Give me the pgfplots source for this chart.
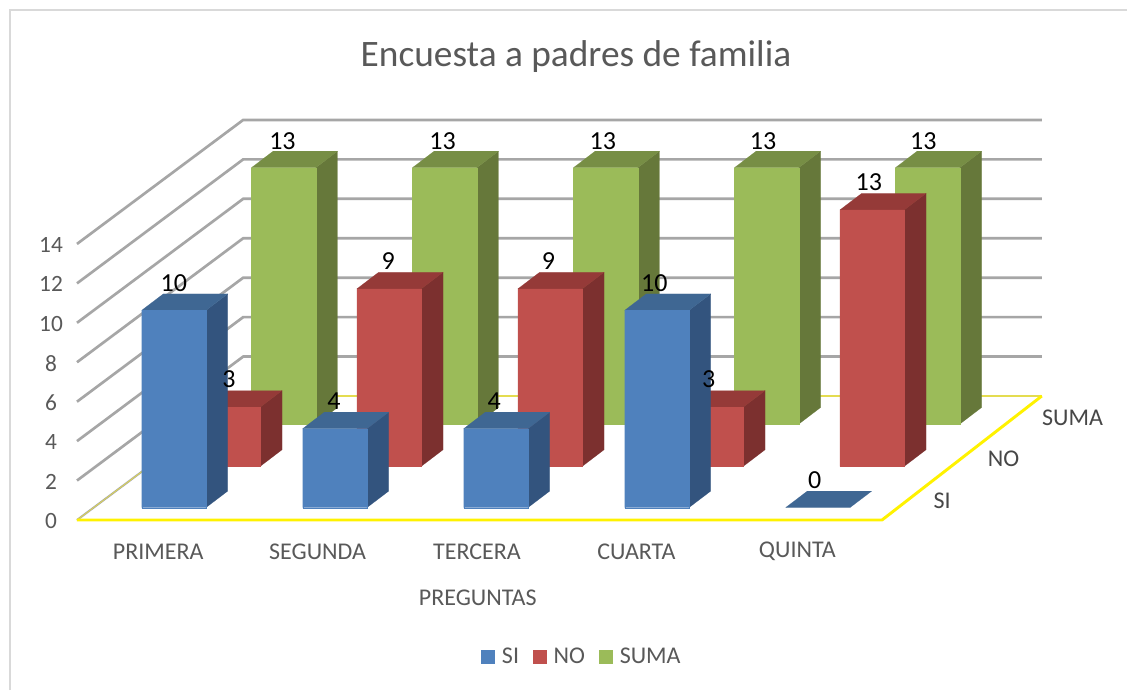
\documentclass[border=0pt]{standalone}
\usepackage{fontspec}
\setmainfont{Carlito}
\usepackage{pgfplots}
\pgfplotsset{compat=1.18}
\definecolor{txt}{HTML}{595959}
\definecolor{gridc}{HTML}{A6A6A6}
\definecolor{frame}{HTML}{D9D9D9}
\definecolor{bf}{HTML}{4F81BD}\definecolor{bs}{HTML}{33547E}\definecolor{bt}{HTML}{3F6793}
\definecolor{rf}{HTML}{C0504D}\definecolor{rs}{HTML}{7C302F}\definecolor{rt}{HTML}{953A38}
\definecolor{gf}{HTML}{9BBB59}\definecolor{gs}{HTML}{66783A}\definecolor{gt}{HTML}{778E45}
% x0 x1 y0 y1 value  letter
\newcommand{\threedbar}[6]{%
  \addplot3[forget plot,fill=#6s,draw=#6s,line width=0.1pt] coordinates {(#2,#3,0) (#2,#4,0) (#2,#4,#5) (#2,#3,#5) (#2,#3,0)};
  \addplot3[forget plot,fill=#6t,draw=#6t,line width=0.1pt] coordinates {(#1,#3,#5) (#2,#3,#5) (#2,#4,#5) (#1,#4,#5) (#1,#3,#5)};
  \addplot3[forget plot,fill=#6f,draw=#6f,line width=0.1pt] coordinates {(#1,#3,0) (#2,#3,0) (#2,#3,#5) (#1,#3,#5) (#1,#3,0)};
}
\newcommand{\zerobar}[6]{%
  \addplot3[forget plot,fill=#6t,draw=#6t,line width=0.1pt] coordinates {(#1,#3,#5) (#2,#3,#5) (#2,#4,#5) (#1,#4,#5) (#1,#3,#5)};
}
\newcommand{\gridlvl}[1]{%
  \addplot3[forget plot,draw=gridc,line width=2pt] coordinates {(0,0,#1) (0.02,3,#1) (4.98,3,#1)};
}
\newcommand{\vallabel}[4]{\node[font=\fontsize{19.5}{19.5}\selectfont,text=black,inner sep=0pt,yshift=20.75pt] at (axis cs:#1,#2,#3) {#4};}
\begin{document}
\begin{tikzpicture}
\useasboundingbox (0,0) rectangle (845.25pt,517.5pt);
\fill[white] (0,0) rectangle (845.25pt,517.5pt);
\draw[frame,line width=1.5pt] (7.5pt,0) -- (7.5pt,510pt) -- (845.25pt,510pt);
\begin{axis}[
  at={(57.75pt,127.5pt)},anchor=origin,
  x={(120.75pt,0pt)},y={(40.75pt,31pt)},z={(0pt,14.79pt)},
  xmin=0,xmax=5,ymin=0,ymax=3,zmin=0,zmax=14,
  clip=false,
  axis line style={draw=none},
  major tick length=0pt,
  xtick={0.5,1.49,2.48,3.47,4.47},
  xticklabels={PRIMERA,SEGUNDA,TERCERA,CUARTA,QUINTA},
  ytick={0.5,1.5,2.5},
  yticklabels={SI,NO,SUMA},
  ztick={0,2,4,6,8,10,12,14},
  /pgf/number format/assume math mode=true,
  xticklabel style={font=\fontsize{18}{18}\selectfont,text=txt,anchor=center,yshift=-23.5pt,xshift=0.5pt},
  yticklabel style={font=\fontsize{18}{18}\selectfont,text=txt!80!black,anchor=west,xshift=14.75pt,yshift=-0.9pt},
  zticklabel style={font=\fontsize{17.5}{17.5}\selectfont,text=txt,anchor=center,xshift=-19.5pt,yshift=-0.7pt},
  xlabel={PREGUNTAS},
  xlabel style={font=\fontsize{18}{18}\selectfont,text=txt,at={(axis description cs:0.414,-0.195)},anchor=center},
  legend columns=3,
  legend style={draw=none,fill=none,font=\fontsize{18}{18}\selectfont,text=txt,at={(axis description cs:0.522,-0.342)},anchor=center,column sep=3pt,
    /tikz/every even column/.append style={column sep=8.5pt}},
  legend image code/.code={\fill[#1,draw=none] (0pt,-5.25pt) rectangle (10.5pt,5.25pt);},
]
\addlegendimage{fill=bf}\addlegendentry{SI\hspace{11.25pt}}
\addlegendimage{fill=rf}\addlegendentry{NO}
\addlegendimage{fill=gf}\addlegendentry{SUMA}
% walls
\gridlvl{2}\gridlvl{4}\gridlvl{6}\gridlvl{8}\gridlvl{10}\gridlvl{12}\gridlvl{14}
% floor
\addplot3[forget plot,draw=gridc,line width=1.5pt] coordinates {(0,0,0) (0.02,3,0)};
\addplot3[forget plot,draw=yellow!70!gridc,line width=0.5pt] coordinates {(0,0,0) (0.02,3,0)};
\addplot3[forget plot,draw=yellow!65!gridc,line width=2pt] coordinates {(0.02,3,0) (4.98,3,0)};
\addplot3[forget plot,draw=yellow,line width=2.2pt,line join=round] coordinates {(0,0,0) (5,0,0) (4.98,3,0)};
% SUMA row
\threedbar{0.3}{0.7}{2.32}{2.72}{13}{g}
\threedbar{1.3}{1.7}{2.32}{2.72}{13}{g}
\threedbar{2.3}{2.7}{2.32}{2.72}{13}{g}
\threedbar{3.3}{3.7}{2.32}{2.72}{13}{g}
\threedbar{4.3}{4.7}{2.32}{2.72}{13}{g}
% NO row
\threedbar{0.3}{0.7}{1.3}{1.7}{3}{r}
\threedbar{1.3}{1.7}{1.3}{1.7}{9}{r}
\threedbar{2.3}{2.7}{1.3}{1.7}{9}{r}
\threedbar{3.3}{3.7}{1.3}{1.7}{3}{r}
\threedbar{4.3}{4.7}{1.3}{1.7}{13}{r}
% SI row
\threedbar{0.3}{0.7}{0.3}{0.7}{10}{b}
\threedbar{1.3}{1.7}{0.3}{0.7}{4}{b}
\threedbar{2.3}{2.7}{0.3}{0.7}{4}{b}
\threedbar{3.3}{3.7}{0.3}{0.7}{10}{b}
\zerobar{4.3}{4.7}{0.3}{0.7}{0}{b}
% value labels
\vallabel{0.5}{2.3}{13}{13}\vallabel{1.495}{2.3}{13}{13}\vallabel{2.49}{2.3}{13}{13}\vallabel{3.485}{2.3}{13}{13}\vallabel{4.48}{2.3}{13}{13}
\vallabel{0.505}{1.3}{3}{3}\vallabel{1.495}{1.3}{9}{9}\vallabel{2.49}{1.3}{9}{9}\vallabel{3.485}{1.3}{3}{3}\vallabel{4.48}{1.3}{13}{13}
\vallabel{0.5}{0.3}{10}{10}\vallabel{1.495}{0.3}{4}{4}\vallabel{2.49}{0.3}{4}{4}\vallabel{3.485}{0.3}{10}{10}\vallabel{4.48}{0.3}{0}{0}
\end{axis}
\node[font=\fontsize{28}{28}\selectfont,text=txt] at (432pt,475pt) {Encuesta a padres de familia};
\end{tikzpicture}
\end{document}
